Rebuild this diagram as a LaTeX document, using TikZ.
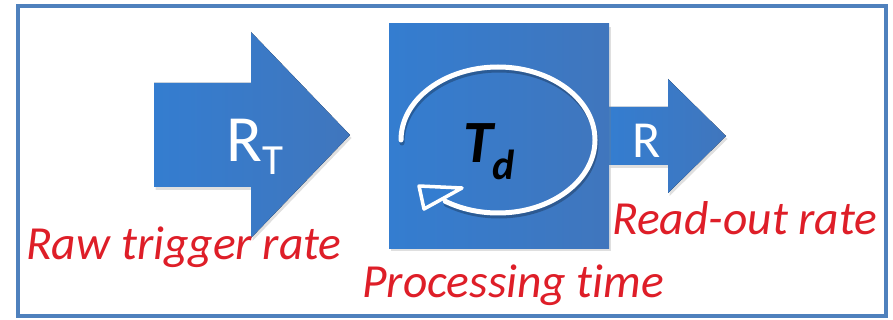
\documentclass[tikz,border=0pt]{standalone}
\usepackage{fontspec}
\setmainfont{Carlito}[Ligatures=NoCommon]
\usetikzlibrary{shadows}
\definecolor{frameblue}{RGB}{79,129,189}
\definecolor{blockL}{RGB}{52,125,208}
\definecolor{blockR}{RGB}{64,118,189}
\definecolor{labelred}{RGB}{222,30,40}
\tikzset{
  block/.style={left color=blockL, right color=blockR, draw=none,
    drop shadow={shadow xshift=1.5pt, shadow yshift=-3pt, opacity=0.25}},
  redlabel/.style={text=labelred, anchor=base west, inner sep=0pt,
    font=\fontsize{47.5}{47.5}\selectfont\itshape},
  whitelabel/.style={text=white, anchor=base west, inner sep=0pt}
}
\begin{document}
\begin{tikzpicture}[x=1pt, y=-1pt]
  \useasboundingbox (0,0) rectangle (893,320);

  % 1. outer frame
  \draw[frameblue, line width=3.5pt] (18,6) rectangle (886,316);

  % 2. input arrow and output arrow
  \fill[block] (154,83) -- (251,83) -- (251,32) -- (350,135) -- (251,238)
    -- (251,187) -- (154,187) -- cycle;
  \fill[block] (609,107) -- (668,107) -- (668,79) -- (726,136) -- (668,193)
    -- (668,165) -- (609,165) -- cycle;

  % 3. processing block
  \fill[block] (389,24) rectangle (609,248);

  % 4. loop arrow (arc + open head)
  \draw[black, opacity=0.25, line width=5pt, line cap=round]
    (402,143) arc[start angle=180, end angle=483, x radius=97, y radius=73];
  \draw[white, line width=5pt, line cap=round]
    (401,140) arc[start angle=180, end angle=483, x radius=97, y radius=73];
  \draw[white, line width=3.5pt, line join=round, fill=blockL]
    (419,186) -- (462,188) -- (424,209) -- cycle;

  % 5. symbols
  \node[whitelabel, font=\fontsize{66}{66}\selectfont] (rtlabel) at (226,162)
    {R\raisebox{-13pt}{\fontsize{43}{43}\selectfont T}};
  \node[text=black, anchor=base west, inner sep=0pt,
    font=\fontsize{60}{60}\selectfont\bfseries\itshape] (tdlabel) at (463,163)
    {T\raisebox{-17pt}{\fontsize{42}{42}\selectfont d}};
  \node[whitelabel, font=\fontsize{52}{52}\selectfont] (rlabel) at (632,158) {R};

  % 6. red captions
  \node[redlabel] (rawlabel) at (26,259) {Raw trigger rate};
  \node[redlabel] (readlabel) at (612,235) {Read-out rate};
  \node[redlabel] (proclabel) at (362,297) {Processing time};

\end{tikzpicture}
\end{document}
